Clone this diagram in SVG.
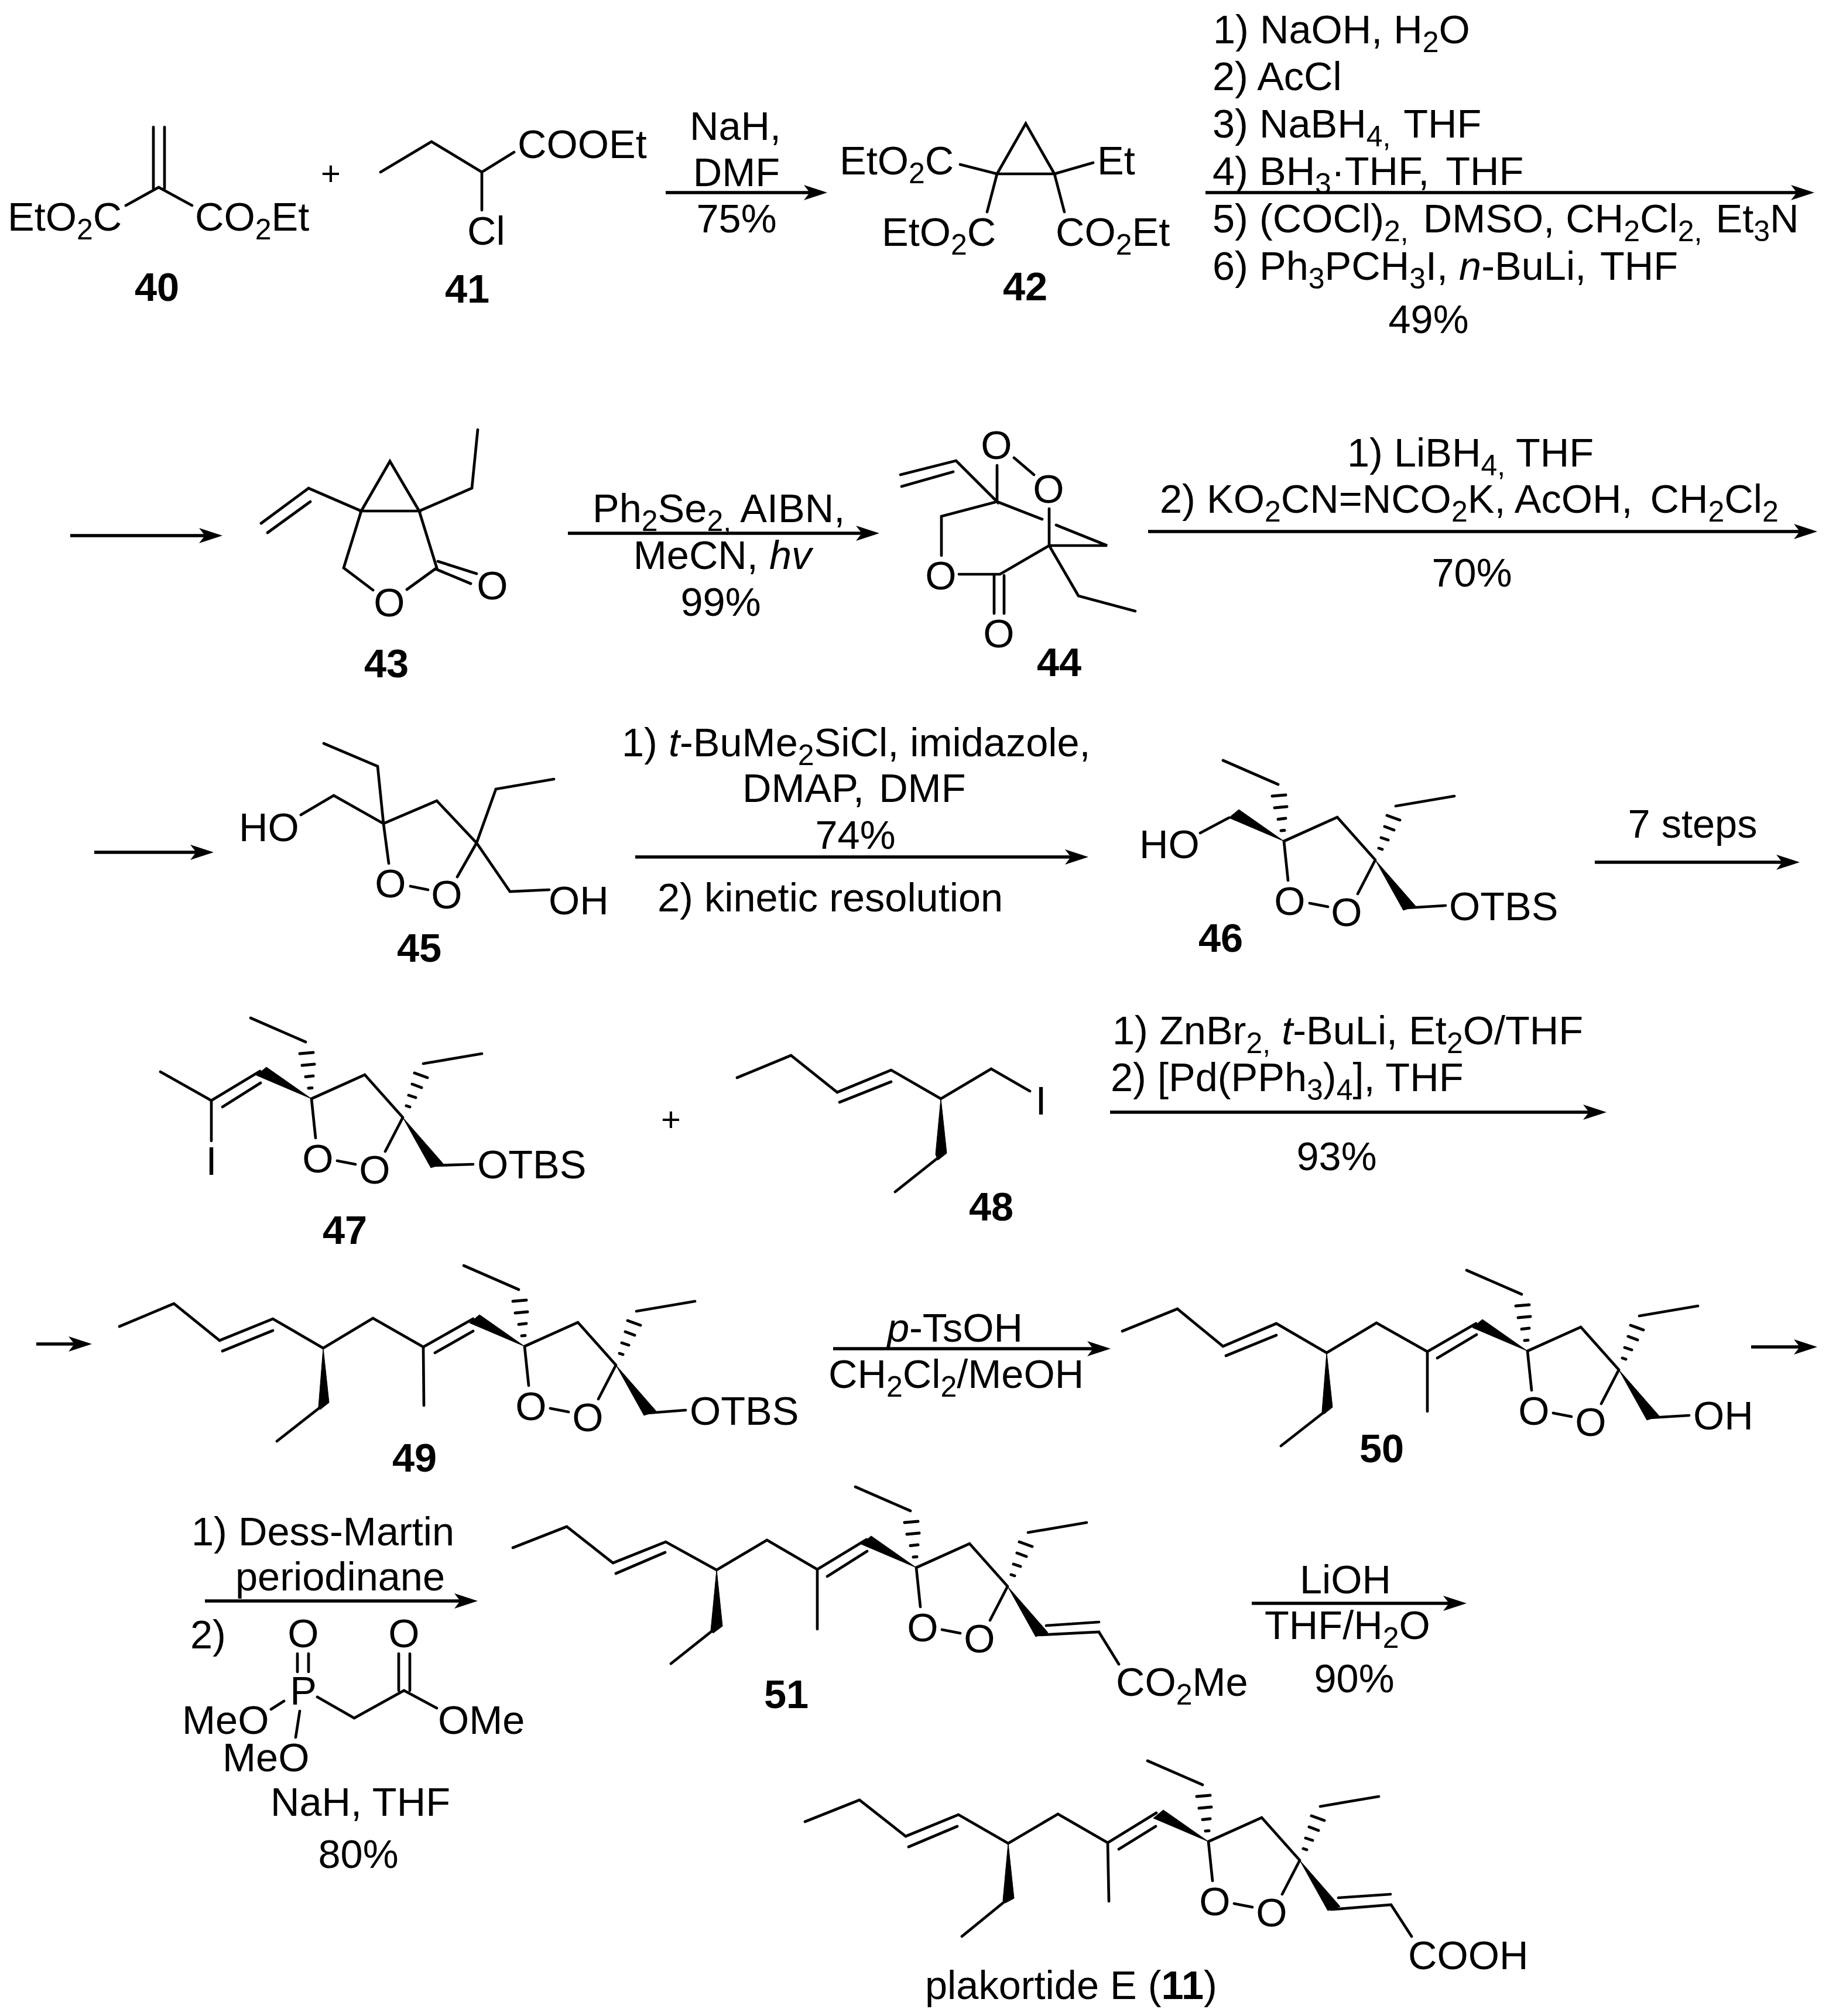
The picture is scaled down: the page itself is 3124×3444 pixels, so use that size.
<svg xmlns="http://www.w3.org/2000/svg" xmlns:xlink="http://www.w3.org/1999/xlink" width="3124" height="3444" viewBox="0 0 3124 3444">
<style>
text{font-family:"Liberation Sans",Arial,sans-serif;font-size:68.5px;fill:#000}
.m{text-anchor:middle}
.lb{font-weight:bold;text-anchor:middle}
.s{font-size:50px;baseline-shift:-15px}
.i{font-style:italic}
.bb{font-weight:bold}
.p{font-size:58px}
.b{fill:none;stroke:#000;stroke-width:4.7;stroke-linejoin:miter;stroke-linecap:round}
.h{fill:none;stroke:#000;stroke-width:5;stroke-linecap:round}
.a{stroke:#000;stroke-width:5.5;fill:none;marker-end:url(#head)}
.w{fill:#000;stroke:#000;stroke-width:1}
</style>
<defs>
<marker id="head" markerUnits="userSpaceOnUse" markerWidth="40" markerHeight="26" refX="20" refY="13" orient="auto" overflow="visible"><path d="M0 0L40 13L0 26L10 13Z" fill="#000"/></marker>
<g id="core">
<path class="b" d="M0 0L91-41L156 32M0 0L7 67M156 32L126 90M44 106L75 112M-10-97L-104-138M191-60L291-77"/>
<path class="h" d="M-5-18L1-18.500M-10-37.500L3-39M-16-57L5-59M-20-77L3-79M162 12L168 14M166-6L178-2M172-25L188-19M176-44L198-36"/>
<polygon class="w" points="0,0 -94,-40 -77,-54"/>
<polygon class="w" points="156,32 204,118 225,111"/>
</g>
</defs>
<rect width="3124" height="3444" fill="#fff"/>

<g id="connectors">
<line class="a" x1="1137" y1="329" x2="1393" y2="329"/>
<line class="a" x1="2059" y1="329" x2="3079" y2="329"/>
<line class="a" x1="120" y1="915" x2="360" y2="915"/>
<line class="a" x1="970" y1="911" x2="1482" y2="911"/>
<line class="a" x1="1961" y1="908" x2="3084" y2="908"/>
<line class="a" x1="161" y1="1456" x2="345" y2="1456"/>
<line class="a" x1="1085" y1="1464" x2="1839" y2="1464"/>
<line class="a" x1="2724" y1="1473" x2="3054" y2="1473"/>
<line class="a" x1="1896" y1="1900" x2="2724" y2="1900"/>
<line class="a" x1="62" y1="2296" x2="137" y2="2296"/>
<line class="a" x1="1423" y1="2304" x2="1877" y2="2304"/>
<line class="a" x1="2991" y1="2301" x2="3084" y2="2301"/>
<line class="a" x1="350" y1="2735" x2="796" y2="2735"/>
<line class="a" x1="2138" y1="2739" x2="2485" y2="2739"/>
</g>

<g id="c40">
<path class="b" d="M262 217V322M281 217V322M215 351L271 320L328 351"/>
<text x="13" y="394">EtO<tspan class="s">2</tspan>C</text>
<text x="333" y="394">CO<tspan class="s">2</tspan>Et</text>
<text class="lb" x="268" y="514">40</text>
</g>
<g id="plus1"><text class="m p" x="565" y="316">+</text></g>
<g id="c41">
<path class="b" d="M650 294L737 242L823 294L878 260M823 294V359"/>
<text x="884" y="270">COOEt</text>
<text x="798" y="418">Cl</text>
<text class="lb" x="798" y="517">41</text>
</g>
<g id="r1">
<text class="m" x="1256" y="239">NaH,</text>
<text class="m" x="1258" y="318">DMF</text>
<text class="m" x="1258" y="397">75%</text>
</g>
<g id="c42">
<path class="b" d="M1703 297L1752 211L1801 297ZM1703 297L1640 281M1801 297L1867 278M1703 297L1686 362M1801 297L1818 362"/>
<text x="1434" y="298">EtO<tspan class="s">2</tspan>C</text>
<text x="1874" y="298">Et</text>
<text x="1506" y="420">EtO<tspan class="s">2</tspan>C</text>
<text x="1803" y="420">CO<tspan class="s">2</tspan>Et</text>
<text class="lb" x="1751" y="513">42</text>
</g>
<g id="r2">
<text x="2072" y="74">1) NaOH, H<tspan class="s">2</tspan>O</text>
<text x="2071" y="154">2) AcCl</text>
<text x="2071" y="235">3) NaBH<tspan class="s">4,</tspan> <tspan dx="4">THF</tspan></text>
<text x="2071" y="316">4) BH<tspan class="s">3</tspan>·THF, <tspan dx="10">THF</tspan></text>
<text x="2071" y="397">5) (COCl)<tspan class="s">2,</tspan> <tspan dx="6">DMSO,</tspan> CH<tspan class="s">2</tspan>Cl<tspan class="s">2,</tspan> <tspan dx="4">Et</tspan><tspan class="s">3</tspan>N</text>
<text x="2071" y="478">6) Ph<tspan class="s">3</tspan>PCH<tspan class="s">3</tspan>I, <tspan class="i">n</tspan>-BuLi, <tspan dx="6">THF</tspan></text>
<text class="m" x="2440" y="569">49%</text>
</g>

<g id="c43">
<path class="b" d="M617 873L666 788L716 873ZM716 873L806 834L816 734M617 873L527 834L446 894M530 857L457 910M617 873L587 970L637 1008M695 1007L746 970L716 873M748 959L814 980M744 972L804 997"/>
<text class="m" x="665" y="1053">O</text>
<text class="m" x="841" y="1024">O</text>
<text class="lb" x="660" y="1157">43</text>
</g>
<g id="r3">
<text x="1012" y="892">Ph<tspan class="s">2</tspan>Se<tspan class="s">2,</tspan> AIBN,</text>
<text class="m" x="1234" y="972">MeCN, <tspan class="i">hv</tspan></text>
<text class="m" x="1231" y="1052">99%</text>
</g>
<g id="c44">
<path class="b" d="M1538 811L1633 787L1703 857V795M1540 831L1628 806M1732 782L1766 811M1703 857L1780 887M1792 869V932L1891 932L1804 897M1792 932L1708 981H1638M1792 932L1842 1018L1939 1044M1703 857L1608 882V949M1698 983V1048M1715 983V1048"/>
<text class="m" x="1702" y="784">O</text>
<text class="m" x="1791" y="859">O</text>
<text class="m" x="1607" y="1007">O</text>
<text class="m" x="1706" y="1106">O</text>
<text class="lb" x="1809" y="1155">44</text>
</g>
<g id="r4">
<text x="2301" y="797">1) LiBH<tspan class="s">4,</tspan> THF</text>
<text x="1981" y="876">2) KO<tspan class="s">2</tspan>CN=NCO<tspan class="s">2</tspan>K, AcOH, <tspan dx="11">CH</tspan><tspan class="s">2</tspan>Cl<tspan class="s">2</tspan></text>
<text class="m" x="2514" y="1002">70%</text>
</g>

<g id="c45">
<path class="b" d="M664 1475L655 1407L645 1309L553 1270M514 1392L570 1359L655 1407L746 1368L814 1440L847 1348L946 1331M938 1520L871 1523L814 1440L781 1498M701 1514L731 1520"/>
<text x="408" y="1437">HO</text>
<text class="m" x="667" y="1533">O</text>
<text class="m" x="763" y="1552">O</text>
<text x="937" y="1562">OH</text>
<text class="lb" x="716" y="1643">45</text>
</g>
<g id="r5">
<text x="1062" y="1292">1) <tspan class="i">t</tspan>-BuMe<tspan class="s">2</tspan>SiCl, imidazole,</text>
<text x="1268" y="1370">DMAP, <tspan dx="6">DMF</tspan></text>
<text class="m" x="1461" y="1450">74%</text>
<text x="1123" y="1557">2) kinetic resolution</text>
</g>
<g id="c46">
<use href="#core" xlink:href="#core" x="2193" y="1437"/>
<path class="b" d="M2099 1397L2050 1423M2403 1551L2469 1547"/>
<text x="1946" y="1466">HO</text>
<text class="m" x="2203" y="1563">O</text>
<text class="m" x="2300" y="1582">O</text>
<text x="2475" y="1572">OTBS</text>
<text class="lb" x="2085" y="1626">46</text>
</g>
<g id="r6"><text class="m" x="2891" y="1431">7 steps</text></g>

<g id="c47">
<use href="#core" xlink:href="#core" x="532" y="1877"/>
<path class="b" d="M274 1831L361 1880L444 1830M380 1891L445 1850M361 1880V1949M742 1991L808 1989"/>
<text class="m" x="361" y="2007">I</text>
<text class="m" x="543" y="2003">O</text>
<text class="m" x="640" y="2022">O</text>
<text x="815" y="2013">OTBS</text>
<text class="lb" x="589" y="2125">47</text>
</g>
<g id="plus2"><text class="m p" x="1146" y="1932">+</text></g>
<g id="c48">
<path class="b" d="M1259 1841L1351 1803L1430 1866L1522 1828L1607 1877L1693 1826L1759 1864M1434 1883L1522 1848M1602 1978L1529 2036"/>
<polygon class="w" points="1607,1877 1598,1972 1602,1982 1617,1970"/>
<text class="m" x="1778" y="1904">I</text>
<text class="lb" x="1693" y="2085">48</text>
</g>
<g id="r7">
<text x="1900" y="1784">1) ZnBr<tspan class="s">2,</tspan> <tspan class="i">t</tspan>-BuLi, Et<tspan class="s">2</tspan>O/THF</text>
<text x="1897" y="1864">2) [Pd(PPh<tspan class="s">3</tspan>)<tspan class="s">4</tspan>], THF</text>
<text class="m" x="2283" y="1999">93%</text>
</g>

<g id="c49">
<use href="#core" xlink:href="#core" x="896" y="2300"/>
<path class="b" d="M204 2266L297 2227L375 2290L466 2253L552 2303L637 2252L723 2301L808 2253M380 2308L466 2273M743 2311L808 2274M723 2301L724 2401M547 2404L473 2462M1106 2414L1171 2409"/>
<polygon class="w" points="552,2303 544,2404 547,2408 562,2396"/>
<text class="m" x="907" y="2426">O</text>
<text class="m" x="1004" y="2445">O</text>
<text x="1178" y="2434">OTBS</text>
<text class="lb" x="708" y="2514">49</text>
</g>
<g id="r8">
<text class="m" x="1631" y="2292"><tspan class="i">p</tspan>-TsOH</text>
<text x="1415" y="2371">CH<tspan class="s">2</tspan>Cl<tspan class="s">2</tspan>/MeOH</text>
</g>
<g id="c50">
<use href="#core" xlink:href="#core" x="2609" y="2308"/>
<path class="b" d="M1917 2274L2011 2236L2089 2300L2180 2261L2266 2311L2351 2260L2438 2309L2521 2261M2094 2316L2180 2281M2455 2320L2522 2280M2438 2309V2411M2262 2412L2188 2470M2819 2422L2885 2418"/>
<polygon class="w" points="2266,2311 2258,2412 2261,2416 2276,2404"/>
<text class="m" x="2620" y="2434">O</text>
<text class="m" x="2717" y="2453">O</text>
<text x="2892" y="2442">OH</text>
<text class="lb" x="2360" y="2498">50</text>
</g>

<g id="r9">
<text x="327" y="2640">1) Dess-Martin</text>
<text x="402" y="2717">periodinane</text>
<text x="325" y="2816">2)</text>
<path class="b" d="M508 2825V2856M527 2825V2856M681 2825V2888M700 2825V2888M542 2899L605 2935L690 2888L746 2918M485 2906L463 2920M512 2923L505 2968"/>
<text class="m" x="518" y="2814">O</text>
<text class="m" x="690" y="2814">O</text>
<text class="m" x="518" y="2912">P</text>
<text x="748" y="2962">OMe</text>
<text x="311" y="2962">MeO</text>
<text x="380" y="3026">MeO</text>
<text x="462" y="3102">NaH, THF</text>
<text class="m" x="612" y="3191">80%</text>
</g>
<g id="c51">
<use href="#core" xlink:href="#core" x="1565" y="2678"/>
<path class="b" d="M876 2644L968 2608L1047 2670L1137 2634L1224 2682L1310 2631L1396 2681L1480 2630M1052 2688L1136 2652M1413 2693L1481 2650M1396 2681V2783M1219 2784L1146 2842M1775 2793L1877 2788L1911 2843M1787 2777L1877 2771"/>
<polygon class="w" points="1224,2682 1214,2786 1218,2790 1234,2778"/>
<text class="m" x="1576" y="2804">O</text>
<text class="m" x="1673" y="2823">O</text>
<text x="1906" y="2897">CO<tspan class="s">2</tspan>Me</text>
<text class="lb" x="1343" y="2918">51</text>
</g>
<g id="r10">
<text class="m" x="2298" y="2722">LiOH</text>
<text x="2160" y="2800">THF/H<tspan class="s">2</tspan>O</text>
<text class="m" x="2313" y="2891">90%</text>
</g>
<g id="c11">
<use href="#core" xlink:href="#core" x="2064" y="3146"/>
<path class="b" d="M1375 3112L1468 3075L1547 3137L1637 3100L1722 3149L1807 3099L1892 3148L1975 3097M1552 3155L1635 3120M1911 3159L1974 3120M1892 3148L1894 3248M1719 3246L1643 3308M2274 3262L2376 3254L2411 3308M2286 3242L2375 3236"/>
<polygon class="w" points="1722,3149 1713,3247 1717,3251 1732,3243"/>
<text class="m" x="2075" y="3272">O</text>
<text class="m" x="2172" y="3291">O</text>
<text x="2405" y="3364">COOH</text>
<text x="1580" y="3415">plakortide E (<tspan class="bb">11</tspan>)</text>
</g>
</svg>
